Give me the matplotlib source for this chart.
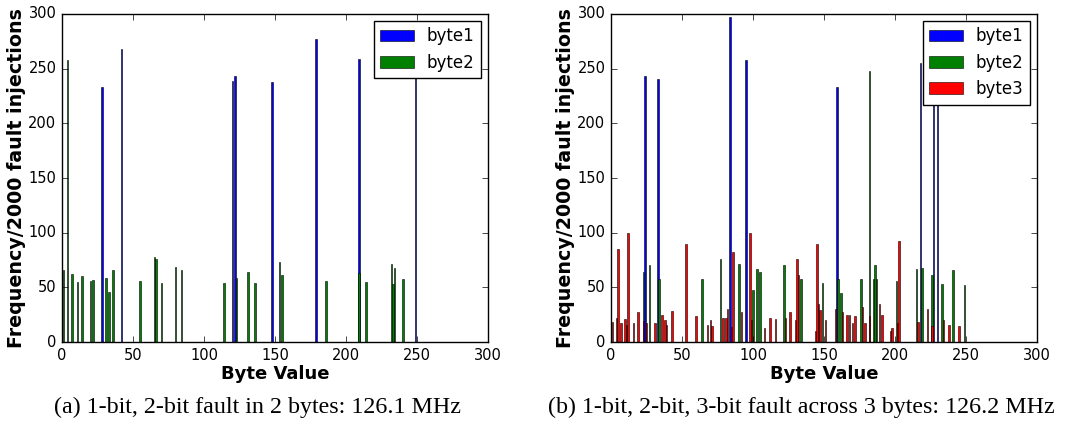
import numpy as np
import matplotlib
matplotlib.use("Agg")
import matplotlib.pyplot as plt

plt.style.use('classic')

# (a) 1-bit, 2-bit fault in 2 bytes
a_b1_pos = [28, 42, 120, 122, 148, 179, 209, 249]
a_b1_val = [233, 268, 239, 243, 238, 277, 259, 250]
a_b2_pos = [1, 4, 7, 11, 14, 20, 22, 31, 33, 36, 55, 65, 66, 70, 80, 84, 114, 123,
            131, 136, 153, 155, 186, 209, 214, 232, 233, 234, 240]
a_b2_val = [66, 258, 62, 55, 60, 56, 57, 59, 46, 66, 56, 78, 76, 54, 69, 66, 54, 59,
            64, 54, 73, 61, 56, 63, 55, 71, 53, 68, 58]

# (b) 1-bit, 2-bit, 3-bit fault across 3 bytes
b_b1_pos = [24, 33, 84, 95, 159, 218, 227, 230]
b_b1_val = [243, 241, 297, 258, 233, 255, 245, 260]
b_b2_pos = [23, 27, 34, 64, 77, 90, 100, 103, 105, 122, 134, 149, 160, 162, 176,
            182, 185, 186, 187, 201, 215, 219, 226, 233, 241, 249]
b_b2_val = [64, 70, 58, 58, 76, 71, 48, 67, 64, 70, 58, 54, 58, 45, 58,
            248, 58, 70, 58, 56, 67, 68, 61, 53, 66, 52]
b_b3_pos = [1, 4, 5, 7, 10, 11, 12, 16, 19, 23, 25, 31, 36, 38, 39, 43, 53, 60, 68,
            70, 71, 79, 81, 82, 85, 86, 92, 98, 99, 108, 112, 116, 123, 126, 130, 131,
            132, 144, 145, 146, 147, 151, 158, 163, 166, 168, 170, 172, 177, 179, 182,
            189, 191, 197, 198, 202, 203, 216, 223, 226, 234, 238, 245]
b_b3_val = [18, 22, 85, 17, 21, 16, 100, 17, 27, 19, 17, 17, 25, 20, 16, 28, 90, 24, 16,
            20, 15, 22, 22, 30, 14, 82, 27, 100, 20, 13, 22, 21, 22, 27, 20, 76,
            61, 10, 90, 35, 29, 20, 30, 27, 25, 25, 17, 24, 32, 17, 24,
            35, 25, 10, 13, 17, 92, 18, 30, 15, 20, 16, 15]

nbins = 256
xs = np.arange(nbins)


def counts(pos, val):
    c = np.zeros(nbins)
    c[pos] = val
    return c


fig = plt.figure(figsize=(10.86, 4.28), dpi=100, facecolor='white')
ax1 = fig.add_axes([0.0571, 0.2009, 0.3923, 0.7664])
ax2 = fig.add_axes([0.5626, 0.2009, 0.3923, 0.7664])

panels = [
    (ax1, [(a_b1_pos, a_b1_val, 'b', 'byte1'), (a_b2_pos, a_b2_val, 'g', 'byte2')]),
    (ax2, [(b_b1_pos, b_b1_val, 'b', 'byte1'), (b_b2_pos, b_b2_val, 'g', 'byte2'),
           (b_b3_pos, b_b3_val, 'r', 'byte3')]),
]

for ax, series in panels:
    for pos, val, col, lab in series:
        ax.bar(xs, counts(pos, val), width=1.1, align='center', color=col,
               edgecolor='black', linewidth=0.4, label=lab)
    ax.set_xlim(0, 300)
    ax.set_ylim(0, 300)
    ax.set_xticks(np.arange(0, 301, 50))
    ax.set_yticks(np.arange(0, 301, 50))
    ax.tick_params(labelsize=10.5)
    ax.set_xlabel('Byte Value', fontsize=13, fontweight='bold', labelpad=2)
    ax.set_ylabel('Frequency/2000 fault injections', fontsize=13.7, fontweight='bold',
                  labelpad=2)
    ax.set_facecolor('white')
    ax.legend(loc='upper right', fontsize=12, borderaxespad=0.4)

fig.text(0.237, 0.047, '(a) 1-bit, 2-bit fault in 2 bytes: 126.1 MHz',
         family='Liberation Serif', fontsize=17.3, ha='center', va='center')
fig.text(0.738, 0.047, '(b) 1-bit, 2-bit, 3-bit fault across 3 bytes: 126.2 MHz',
         family='Liberation Serif', fontsize=17.3, ha='center', va='center')

fig.savefig('out.png', dpi=100, facecolor='white')
